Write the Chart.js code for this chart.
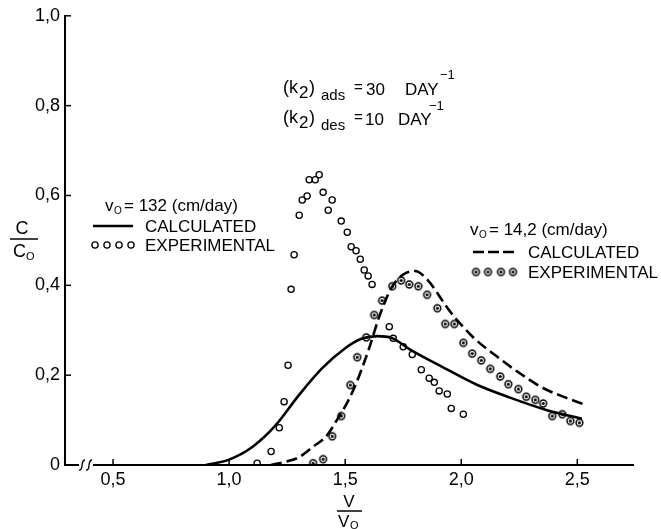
<!DOCTYPE html>
<html>
<head>
<meta charset="utf-8">
<script src="https://cdn.jsdelivr.net/npm/chart.js@4.4.0/dist/chart.umd.min.js"></script>
<style>
  html, body { margin: 0; padding: 0; background: #fff; }
  #wrap { width: 661px; height: 529px; }
</style>
</head>
<body>
<div id="wrap"><canvas id="c" width="661" height="529"></canvas></div>
<script>
// C/Co against V/Vo, two pore velocities (calculated curves + measured points)
const X_TICKS = [0.5, 1.0, 1.5, 2.0, 2.5];
const Y_TICKS = [0, 0.2, 0.4, 0.6, 0.8, 1.0];

// v0 = 132 cm/day, calculated (solid)
const calc132X = [0.90, 1.00, 1.10, 1.20, 1.30, 1.40, 1.50, 1.57, 1.64, 1.70, 1.78, 1.92, 2.07, 2.21, 2.37, 2.52];
const calc132Y = [0.000, 0.012, 0.040, 0.088, 0.155, 0.215, 0.260, 0.281, 0.287, 0.283, 0.257, 0.218, 0.178, 0.150, 0.122, 0.103];

// v0 = 132 cm/day, experimental (open circles)
const exp132X = [1.121, 1.181, 1.216, 1.237, 1.254, 1.267, 1.280, 1.302, 1.315, 1.336, 1.345, 1.371, 1.388, 1.405, 1.427, 1.444, 1.483, 1.509,
                 1.526, 1.547, 1.565, 1.582, 1.599, 1.616, 1.690, 1.707, 1.750, 1.789, 1.828, 1.862, 1.884, 1.905, 1.940, 1.957, 2.009];
const exp132Y = [0.004, 0.030, 0.083, 0.141, 0.222, 0.391, 0.468, 0.556, 0.590, 0.599, 0.635, 0.635, 0.646, 0.607, 0.567, 0.590, 0.543, 0.518,
                 0.486, 0.477, 0.458, 0.434, 0.421, 0.402, 0.308, 0.282, 0.263, 0.246, 0.212, 0.193, 0.184, 0.165, 0.158, 0.126, 0.113];

// v0 = 14.2 cm/day, calculated (dashed)
const calc14X = [1.18, 1.25, 1.30, 1.36, 1.42, 1.47, 1.51, 1.55, 1.60, 1.65, 1.70, 1.75, 1.80, 1.85, 1.95, 2.05, 2.15, 2.25, 2.35, 2.45, 2.53];
const calc14Y = [0.000, 0.008, 0.017, 0.040, 0.065, 0.105, 0.140, 0.185, 0.255, 0.335, 0.395, 0.424, 0.432, 0.415, 0.343, 0.285, 0.243, 0.205, 0.172, 0.150, 0.135];

// v0 = 14.2 cm/day, experimental (dotted circles)
const exp14X = [1.362, 1.405, 1.444, 1.483, 1.522, 1.552, 1.591, 1.625, 1.659, 1.703, 1.741, 1.776, 1.815, 1.853, 1.897, 1.931,
                1.970, 2.009, 2.047, 2.086, 2.125, 2.168, 2.203, 2.246, 2.280, 2.319, 2.353, 2.392, 2.435, 2.470, 2.509];
const exp14Y = [0.004, 0.013, 0.064, 0.109, 0.178, 0.240, 0.284, 0.334, 0.366, 0.398, 0.411, 0.402, 0.398, 0.379, 0.349, 0.314,
                0.314, 0.272, 0.248, 0.233, 0.214, 0.197, 0.180, 0.169, 0.152, 0.145, 0.137, 0.109, 0.113, 0.098, 0.094];

const FONT = '"Liberation Sans", Arial, sans-serif';

function pts (xs, ys)
{
   return xs.map((x, i) => ({ x: x, y: ys[i] }));
}

// circle with a dot in the middle
function makeDotRing (r)
{
   const c = document.createElement('canvas');
   c.width = c.height = Math.ceil(r * 2 + 4);
   const g = c.getContext('2d'), m = c.width / 2;
   g.strokeStyle = '#000';
   g.lineWidth = 1.5;
   g.beginPath(); g.arc(m, m, r, 0, Math.PI * 2); g.stroke();
   g.fillStyle = '#000';
   g.beginPath(); g.arc(m, m, 1.6, 0, Math.PI * 2); g.fill();
   return c;
}
const dotRing = makeDotRing(3.4);

function txt (ctx, s, x, y, size, align)
{
   ctx.font = size + 'px ' + FONT;
   ctx.textAlign = align || 'left';
   ctx.textBaseline = 'alphabetic';
   ctx.fillText(s, x, y);
}

function openRing (ctx, x, y)
{
   ctx.beginPath(); ctx.arc(x, y, 3.1, 0, Math.PI * 2); ctx.stroke();
}

const annotate = {
   id: 'annotate',
   afterDraw (chart)
   {
      const ctx = chart.ctx, xs = chart.scales.x, ys = chart.scales.y;
      const a = chart.chartArea;
      ctx.save();
      ctx.fillStyle = '#000';
      ctx.strokeStyle = '#000';

      // inward tick marks
      ctx.lineWidth = 1.5;
      X_TICKS.forEach(v => {
         const px = xs.getPixelForValue(v);
         ctx.beginPath(); ctx.moveTo(px, a.bottom); ctx.lineTo(px, a.bottom - 6); ctx.stroke();
      });
      Y_TICKS.slice(1).forEach(v => {
         const py = ys.getPixelForValue(v);
         ctx.beginPath(); ctx.moveTo(a.left, py); ctx.lineTo(a.left + 6, py); ctx.stroke();
      });

      // axis break
      ctx.fillStyle = '#fff';
      ctx.fillRect(a.left + 14, a.bottom - 2, 14, 4);
      ctx.fillStyle = '#000';
      ctx.lineWidth = 1.3;
      [a.left + 17, a.left + 24].forEach(cx => {
         ctx.beginPath();
         ctx.moveTo(cx - 3, a.bottom + 5);
         ctx.bezierCurveTo(cx + 2, a.bottom + 6, cx - 2, a.bottom - 5, cx + 3, a.bottom - 5);
         ctx.stroke();
      });

      // axis titles
      txt(ctx, 'C', 22, 234, 18, 'center');
      ctx.lineWidth = 1.5;
      ctx.beginPath(); ctx.moveTo(10, 239); ctx.lineTo(38, 239); ctx.stroke();
      txt(ctx, 'C', 13, 257, 18);
      txt(ctx, 'O', 26, 260, 11);

      txt(ctx, 'V', 349, 507, 17, 'center');
      ctx.beginPath(); ctx.moveTo(337, 511); ctx.lineTo(362, 511); ctx.stroke();
      txt(ctx, 'V', 338, 527, 17);
      txt(ctx, 'O', 350, 529, 11);

      // rate constants
      txt(ctx, '(k', 283, 93, 18);
      txt(ctx, '2', 299, 98, 17);
      txt(ctx, ')', 309, 93, 18);
      txt(ctx, 'ads', 321, 100, 15);
      txt(ctx, '=', 354, 92, 15);
      txt(ctx, '30', 366, 95, 17);
      txt(ctx, 'DAY', 405, 95, 17);
      txt(ctx, '\u22121', 440, 79, 13);

      txt(ctx, '(k', 283, 123, 18);
      txt(ctx, '2', 299, 128, 17);
      txt(ctx, ')', 309, 123, 18);
      txt(ctx, 'des', 321, 130, 15);
      txt(ctx, '=', 354, 122, 15);
      txt(ctx, '10', 365, 125, 17);
      txt(ctx, 'DAY', 398, 125, 17);
      txt(ctx, '\u22121', 429, 110, 13);

      // legend, v0 = 132
      txt(ctx, 'v', 105, 211, 17);
      txt(ctx, 'O', 114, 214, 10);
      txt(ctx, '= 132 (cm/day)', 124, 211, 17);
      ctx.lineWidth = 2.6;
      ctx.beginPath(); ctx.moveTo(93, 226); ctx.lineTo(133, 226); ctx.stroke();
      txt(ctx, 'CALCULATED', 145, 232, 17);
      ctx.lineWidth = 1.3;
      [95, 107, 119, 131].forEach(x => openRing(ctx, x, 245));
      txt(ctx, 'EXPERIMENTAL', 145, 251, 17);

      // legend, v0 = 14.2
      txt(ctx, 'v', 470, 235, 17);
      txt(ctx, 'O', 479, 238, 10);
      txt(ctx, '= 14,2 (cm/day)', 489, 235, 17);
      ctx.lineWidth = 2.6;
      ctx.setLineDash([11, 4]);
      ctx.beginPath(); ctx.moveTo(473, 252); ctx.lineTo(518, 252); ctx.stroke();
      ctx.setLineDash([]);
      txt(ctx, 'CALCULATED', 528, 258, 17);
      [476, 488, 501, 513].forEach(x => ctx.drawImage(dotRing, x - dotRing.width / 2, 272 - dotRing.height / 2));
      txt(ctx, 'EXPERIMENTAL', 528, 278, 17);

      ctx.restore();
   }
};

const tickFont = { family: FONT, size: 18 };

new Chart(document.getElementById('c'), {
   type: 'scatter',
   data: {
      datasets: [
         { label: 'calc 132', data: pts(calc132X, calc132Y), showLine: true, borderColor: '#000', borderWidth: 2.6,
           pointRadius: 0, cubicInterpolationMode: 'monotone', fill: false },
         { label: 'calc 14.2', data: pts(calc14X, calc14Y), showLine: true, borderColor: '#000', borderWidth: 2.6,
           borderDash: [11, 5], pointRadius: 0, cubicInterpolationMode: 'monotone', fill: false },
         { label: 'exp 132', data: pts(exp132X, exp132Y), pointStyle: 'circle', pointRadius: 3.1, borderColor: '#000',
           borderWidth: 1.3, backgroundColor: 'rgba(0,0,0,0)' },
         { label: 'exp 14.2', data: pts(exp14X, exp14Y), pointStyle: dotRing, pointRadius: 4 }
      ]
   },
   options: {
      responsive: false,
      animation: false,
      devicePixelRatio: 1,
      events: [],
      layout: { padding: { top: 10, right: 28, left: 0, bottom: 0 } },
      plugins: { legend: { display: false }, tooltip: { enabled: false } },
      scales: {
         x: {
            type: 'linear', min: 0.293, max: 2.74,
            afterBuildTicks: s => { s.ticks = X_TICKS.map(v => ({ value: v })); },
            afterFit: s => { s.height = 64; },
            grid: { display: false, drawTicks: false },
            border: { display: true, color: '#000', width: 2 },
            ticks: { autoSkip: false, maxRotation: 0, padding: 4, color: '#000', font: tickFont,
                     callback: v => v.toFixed(1).replace('.', ',') }
         },
         y: {
            type: 'linear', min: 0, max: 1.0,
            afterBuildTicks: s => { s.ticks = Y_TICKS.map(v => ({ value: v })); },
            afterFit: s => { s.width = 65; },
            grid: { display: false, drawTicks: false },
            border: { display: true, color: '#000', width: 2 },
            ticks: { autoSkip: false, padding: 5, color: '#000', font: tickFont,
                     callback: v => v === 0 ? '0' : v.toFixed(1).replace('.', ',') }
         }
      }
   },
   plugins: [annotate]
});
</script>
</body>
</html>
